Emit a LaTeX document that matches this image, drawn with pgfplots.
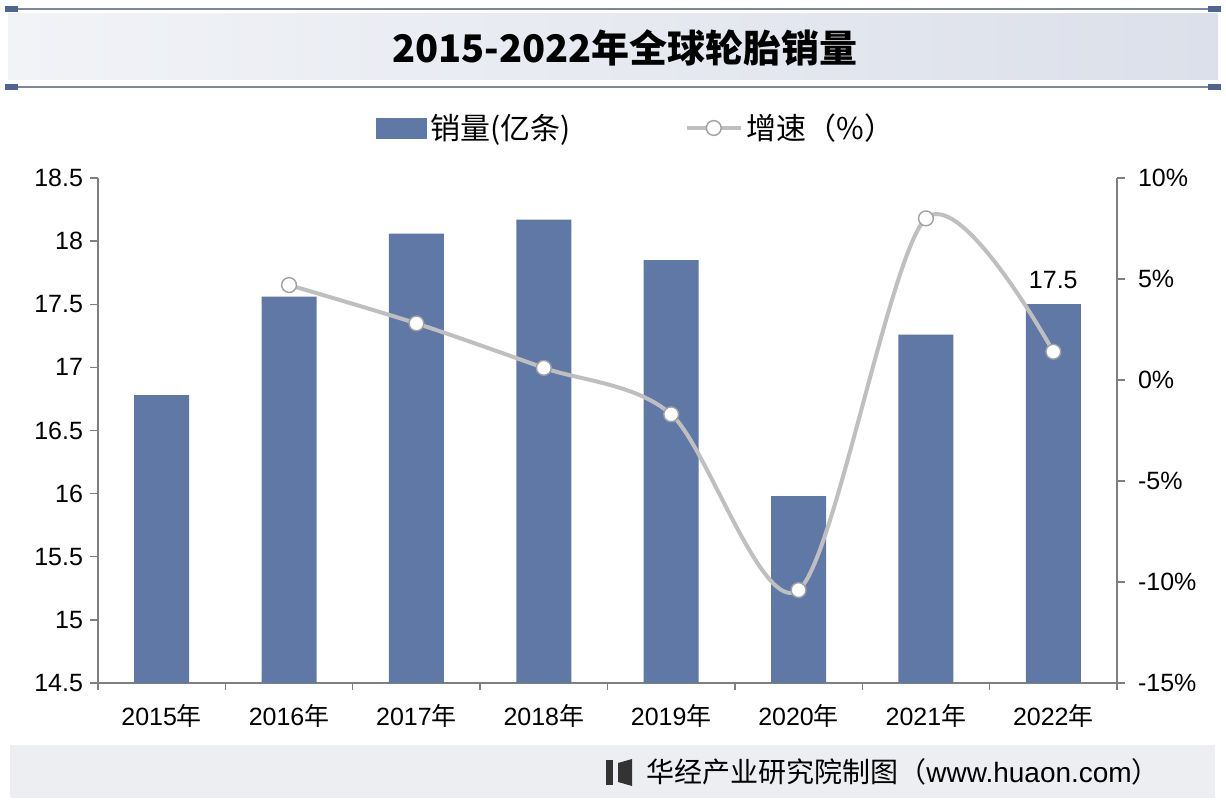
\documentclass[border=0pt]{standalone}
\usepackage{fontspec}
\setmainfont{Liberation Sans}
\newfontfamily\cjk{Noto Sans CJK SC}
\usepackage{pgfplots}
\pgfplotsset{compat=1.18}
\definecolor{barc}{HTML}{5F78A5}
\definecolor{axisc}{HTML}{7F7F7F}
\definecolor{linec}{HTML}{BFBFBF}
\definecolor{markc}{HTML}{A0A0A0}
\definecolor{bannerL}{HTML}{F1F3F7}
\definecolor{bannerR}{HTML}{DCE0EA}
\definecolor{rulec}{HTML}{7C879E}
\definecolor{capc}{HTML}{4D6590}
\definecolor{bandc}{HTML}{ECEEF2}
\begin{document}
\begin{tikzpicture}
\fill[white] (0,0) rectangle (613pt,404pt);
\path[use as bounding box] (0,0) rectangle (613pt,404pt);
% title banner
\shade[left color=bannerL, right color=bannerR] (4pt,364pt) rectangle (609pt,397pt);
\draw[rulec, line width=1pt] (2.5pt,399.5pt) -- (610.5pt,399.5pt);
\draw[rulec, line width=1pt] (2.5pt,360.5pt) -- (610.5pt,360.5pt);
\fill[capc] (2.5pt,398pt) rectangle (9pt,401pt);
\fill[capc] (604pt,398pt) rectangle (610.5pt,401pt);
\fill[capc] (2.5pt,359pt) rectangle (9pt,362pt);
\fill[capc] (604pt,359pt) rectangle (610.5pt,362pt);
\node[font=\fontsize{19pt}{22pt}\selectfont\cjk\bfseries] at (312.5pt,380pt) {2015-2022年全球轮胎销量};
% bottom band
\fill[bandc] (5pt,5pt) rectangle (607.5pt,31.5pt);
\fill[black!80] (303pt,11.5pt) rectangle (306.5pt,24pt);
\fill[black!80] (309pt,13pt) -- (316pt,11pt) -- (316pt,24.5pt) -- (309pt,22.5pt) -- cycle;
\node[anchor=west, font=\fontsize{14pt}{16pt}\selectfont, inner sep=0pt] at (323pt,18pt) {{\cjk 华经产业研究院制图（}www.huaon.com{\cjk ）}};

\begin{axis}[
  at={(49pt,62.5pt)}, anchor=south west,
  scale only axis, width=509.5pt, height=252.5pt,
  xmin=-0.5, xmax=7.5, ymin=14.5, ymax=18.5,
  ybar, bar width=27.5pt,
  axis x line*=bottom, axis y line*=left,
  axis line style={draw=axisc, line width=0.7pt, -},
  every outer x axis line/.append style={-},
  every outer y axis line/.append style={-},
  xtick={0,...,7},
  xticklabels={2015{\cjk 年},2016{\cjk 年},2017{\cjk 年},2018{\cjk 年},2019{\cjk 年},2020{\cjk 年},2021{\cjk 年},2022{\cjk 年}},
  major x tick style={draw=none},
  minor xtick={-0.5,0.5,...,7.5},
  minor x tick style={draw=axisc, line width=0.7pt},
  minor tick length=3.5pt,
  ytick={14.5,15,...,18.5},
  y tick style={draw=axisc, line width=0.7pt},
  major tick length=4pt,
  tick align=outside,
  tick label style={font=\fontsize{12.5pt}{14pt}\selectfont, text=black},
  xticklabel style={yshift=-3pt},
  /pgf/number format/assume math mode=true,
  /pgf/number format/fixed,
  clip=false,
]
\addplot[fill=barc, draw=none] coordinates {(0,16.78) (1,17.56) (2,18.06) (3,18.17) (4,17.85) (5,15.98) (6,17.26) (7,17.50)};
\node[anchor=south, font=\fontsize{12.5pt}{14pt}\selectfont, yshift=4pt] at (axis cs:7,17.5) {17.5};
\end{axis}

\begin{axis}[
  at={(49pt,62.5pt)}, anchor=south west,
  scale only axis, width=509.5pt, height=252.5pt,
  xmin=-0.5, xmax=7.5, ymin=-15, ymax=10,
  axis x line=none, axis y line*=right,
  axis line style={draw=axisc, line width=0.7pt, -},
  every outer y axis line/.append style={-},
  ytick={-15,-10,...,10},
  yticklabel={\pgfmathprintnumber{\tick}\%},
  y tick style={draw=axisc, line width=0.7pt},
  major tick length=4pt,
  tick align=outside,
  tick label style={font=\fontsize{12.5pt}{14pt}\selectfont, text=black},
  yticklabel style={xshift=3pt},
  /pgf/number format/assume math mode=true,
  clip=false,
  legend columns=2,
  legend style={draw=none, fill=none, at={(0.529,1.099)}, anchor=center,
    font=\fontsize{15pt}{17pt}\selectfont\cjk,
    /tikz/every even column/.append style={column sep=55pt}},
]
\addlegendimage{legend image code/.code={\fill[barc] (0pt,-5pt) rectangle (25pt,5pt);}}
\addlegendentry{销量(亿条)}
\addplot[smooth, color=linec, line width=2pt, mark=*, mark size=3.7pt,
  mark options={fill=white, draw=markc, line width=0.7pt},
  legend image code/.code={\draw[linec, line width=2pt] (0pt,0pt) -- (27pt,0pt);
     \draw[markc, fill=white, line width=0.7pt] (13.5pt,0pt) circle (3.7pt);}]
  coordinates {(1,4.7) (2,2.8) (3,0.6) (4,-1.7) (5,-10.4) (6,8.0) (7,1.4)};
\addlegendentry{增速（\%）}
\end{axis}
\end{tikzpicture}
\end{document}
